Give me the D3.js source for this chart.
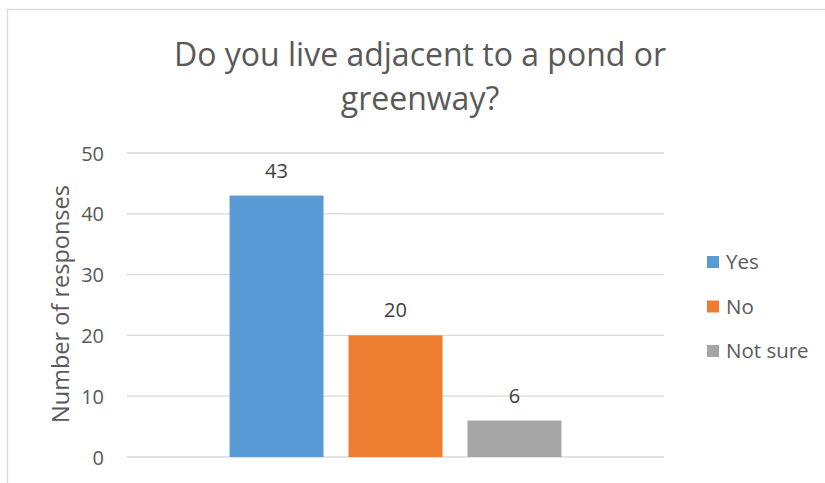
<!DOCTYPE html>
<html>
<head>
<meta charset="utf-8">
<script src="https://cdn.jsdelivr.net/npm/d3@7"></script>
<style>
  html, body { margin: 0; padding: 0; background: #fff; }
  svg { display: block; font-family: "Open Sans", "DejaVu Sans", sans-serif; }
</style>
</head>
<body>
<svg id="chart" width="825" height="483"></svg>
<script>
// Survey responses
const seriesNames = ["Yes", "No", "Not sure"];
const seriesValues = [43, 20, 6];
const seriesColors = ["#5B9BD5", "#ED7D31", "#A5A5A5"];
const yTicks = [0, 10, 20, 30, 40, 50];
const titleLines = ["Do you live adjacent to a pond or", "greenway?"];
const yAxisTitle = "Number of responses";

const svg = d3.select("#chart");

// chart frame (extends beyond the visible area on the right and bottom)
svg.append("rect")
  .attr("x", 7.5).attr("y", 9.5)
  .attr("width", 840).attr("height", 500)
  .attr("fill", "#fff")
  .attr("stroke", "#d9d9d9")
  .attr("stroke-width", 1.3);

const plot = { left: 127, right: 664, top: 153, bottom: 457 };

const y = d3.scaleLinear().domain([0, 50]).range([plot.bottom, plot.top]);

// one category group holding the three series
const xGroup = d3.scaleBand().domain(["all"]).range([plot.left, plot.right]).paddingOuter(0.309);
const xSeries = d3.scaleBand().domain(seriesNames).range([0, xGroup.bandwidth()]).paddingInner(0.21);

// gridlines
svg.append("g")
  .selectAll("line")
  .data(yTicks)
  .join("line")
  .attr("x1", plot.left).attr("x2", plot.right)
  .attr("y1", d => y(d)).attr("y2", d => y(d))
  .attr("stroke", "#d9d9d9")
  .attr("stroke-width", 1.3);

// y tick labels
const yAxis = d3.axisLeft(y).tickValues(yTicks).tickSize(0).tickPadding(0);
const yAxisG = svg.append("g")
  .attr("transform", `translate(${plot.left - 23},0)`)
  .call(yAxis);
yAxisG.select(".domain").remove();
yAxisG.selectAll("text")
  .attr("fill", "#595959")
  .attr("font-size", 20)
  .attr("font-family", "\"Open Sans\", sans-serif")
  .attr("dy", "0.35em");

// bars
const gx = xGroup("all");
svg.append("g")
  .selectAll("rect")
  .data(seriesNames)
  .join("rect")
  .attr("x", (d) => gx + xSeries(d))
  .attr("width", xSeries.bandwidth())
  .attr("y", (d, i) => y(seriesValues[i]))
  .attr("height", (d, i) => y(0) - y(seriesValues[i]))
  .attr("fill", (d, i) => seriesColors[i]);

// value labels
svg.append("g")
  .selectAll("text")
  .data(seriesNames)
  .join("text")
  .attr("x", (d) => gx + xSeries(d) + xSeries.bandwidth() / 2)
  .attr("y", (d, i) => y(seriesValues[i]) - 18)
  .attr("text-anchor", "middle")
  .attr("fill", "#404040")
  .attr("font-size", 20)
  .text((d, i) => seriesValues[i]);

// title
svg.append("text")
  .attr("text-anchor", "middle")
  .attr("fill", "#595959")
  .attr("font-size", 32)
  .selectAll("tspan")
  .data(titleLines)
  .join("tspan")
  .attr("x", 420)
  .attr("y", (d, i) => 66 + i * 44)
  .text(d => d);

// y axis title
svg.append("text")
  .attr("transform", "translate(69,304) rotate(-90)")
  .attr("text-anchor", "middle")
  .attr("fill", "#595959")
  .attr("font-size", 23.5)
  .text(yAxisTitle);

// legend
const legend = svg.append("g")
  .selectAll("g")
  .data(seriesNames)
  .join("g")
  .attr("transform", (d, i) => `translate(707,${262 + i * 44.5})`);
legend.append("rect")
  .attr("x", 0).attr("y", -6)
  .attr("width", 12).attr("height", 12)
  .attr("fill", (d, i) => seriesColors[i]);
legend.append("text")
  .attr("x", 19)
  .attr("dy", "0.35em")
  .attr("fill", "#595959")
  .attr("font-size", 20.5)
  .text(d => d);
</script>
</body>
</html>
